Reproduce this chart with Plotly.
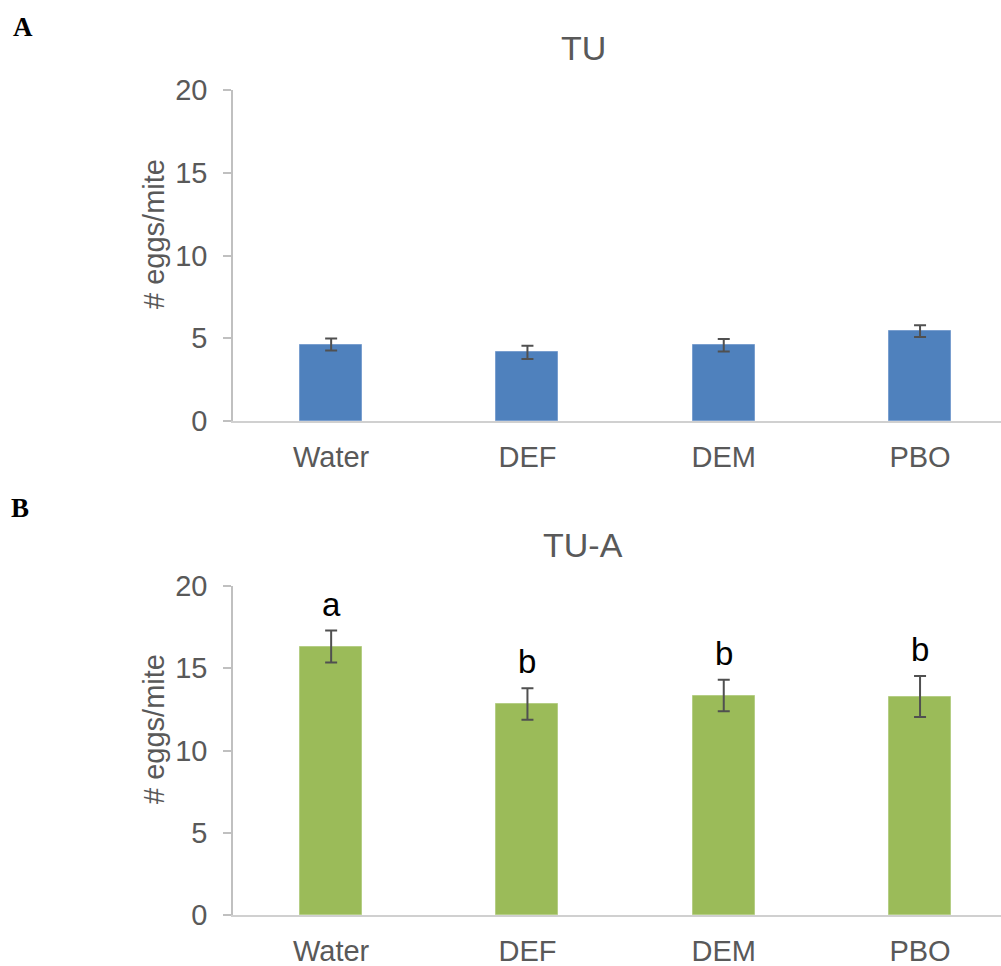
import plotly.graph_objects as go

categories = ["Water", "DEF", "DEM", "PBO"]
tu_means = [4.62, 4.14, 4.58, 5.43]
tu_errors = [0.36, 0.40, 0.38, 0.36]
tua_means = [16.32, 12.83, 13.34, 13.28]
tua_errors = [0.97, 0.96, 0.96, 1.25]
tua_letters = ["a", "b", "b", "b"]
y_ticks = [0, 5, 10, 15, 20]

W, H = 1001, 966
GRAY = "#595959"
FONT = "Liberation Sans, Arial, sans-serif"

def px(x):
    return x / W

def py(y):
    return 1 - y / H

fig = go.Figure()

fig.add_trace(go.Bar(
    x=categories, y=tu_means, width=0.316,
    marker=dict(color="#4F81BD", line=dict(color="#7A9FCF", width=1)),
    error_y=dict(type="data", array=tu_errors, visible=True, color="#505050", thickness=2, width=6),
    xaxis="x", yaxis="y", showlegend=False,
))
fig.add_trace(go.Bar(
    x=categories, y=tua_means, width=0.316,
    marker=dict(color="#9BBB59", line=dict(color="#B5CE85", width=1)),
    error_y=dict(type="data", array=tua_errors, visible=True, color="#505050", thickness=2, width=6),
    xaxis="x2", yaxis="y2", showlegend=False,
))

xr = [-0.5, -0.5 + (W - 233) / 196.3]
xcommon = dict(
    range=xr, domain=[px(233), 1.0], showline=True, linecolor="#D0D0D0", linewidth=2,
    ticks="", showgrid=False, zeroline=False, automargin=False, ticklabelstandoff=9,
    tickfont=dict(family=FONT, size=29, color=GRAY), fixedrange=True,
)
ycommon = dict(
    range=[0, 20], tickvals=y_ticks, showline=True, linecolor="#C0C0C0", linewidth=1.5,
    ticks="outside", ticklen=8, tickcolor="#C0C0C0", tickwidth=1.5, showgrid=False, zeroline=False,
    tickfont=dict(family=FONT, size=29, color=GRAY), ticklabelstandoff=10, automargin=False,
)

fig.update_layout(
    width=W, height=H, margin=dict(l=0, r=0, t=0, b=0, autoexpand=False),
    plot_bgcolor="white", paper_bgcolor="white", bargap=0,
    xaxis=dict(**xcommon, anchor="y"),
    yaxis=dict(**ycommon, domain=[py(421), py(90)], anchor="x"),
    xaxis2=dict(**xcommon, anchor="y2"),
    yaxis2=dict(**ycommon, domain=[py(915), py(586)], anchor="x2"),
)

def txt(text, x, y, size, color=GRAY, family=FONT, angle=0):
    return dict(text=text, x=px(x), y=py(y), xref="paper", yref="paper", showarrow=False,
                xanchor="center", yanchor="middle", textangle=angle,
                font=dict(family=family, size=size, color=color))

ann = [
    txt("TU", 583, 48, 34),
    txt("TU-A", 583, 545, 34),
    txt("<b>A</b>", 23, 27, 27, "black", "Liberation Serif, Times New Roman, serif"),
    txt("<b>B</b>", 20, 508, 27, "black", "Liberation Serif, Times New Roman, serif"),
    txt("# eggs/mite", 154, 234, 29, angle=-90),
    txt("# eggs/mite", 154, 729, 29, angle=-90),
]
for c, m, e, l in zip(categories, tua_means, tua_errors, tua_letters):
    ann.append(dict(text=l, x=c, y=m + e + 1.6, xref="x2", yref="y2", showarrow=False,
                    xanchor="center", yanchor="middle",
                    font=dict(family=FONT, size=33, color="black")))
fig.update_layout(annotations=ann)

fig.write_html("out.html")
